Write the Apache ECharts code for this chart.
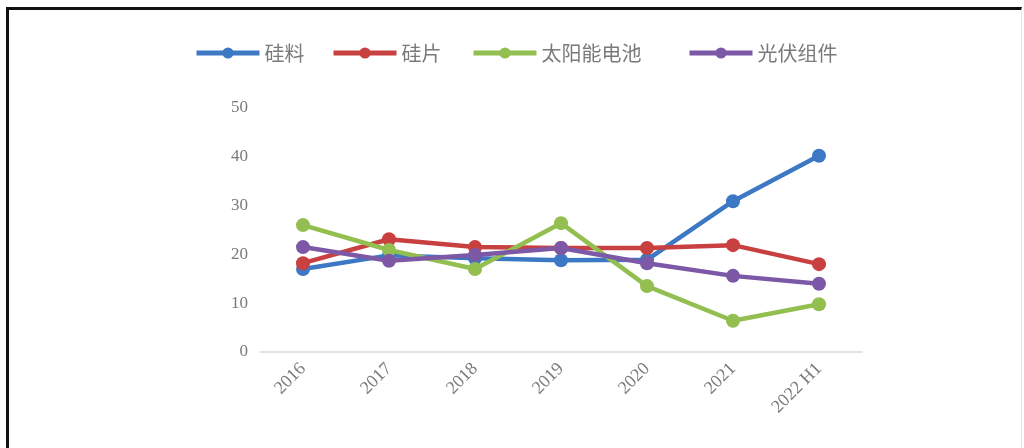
<!DOCTYPE html>
<html><head><meta charset="utf-8">
<script src="https://cdn.jsdelivr.net/npm/echarts@6/dist/echarts.min.js"></script>
<style>
html,body{margin:0;padding:0;background:#fff;}
#frame{position:absolute;left:6px;top:7px;width:1016px;height:460px;border-top:3px solid #111;border-left:3px solid #111;border-right:1px solid #e4e4e4;box-sizing:border-box;}
#c{position:absolute;left:0;top:0;width:1024px;height:448px;}
</style></head>
<body>
<div id="frame"></div>
<div id="c"></div>
<script>
const categories = ['2016','2017','2018','2019','2020','2021','2022 H1'];
const seriesNames = ['硅料','硅片','太阳能电池','光伏组件'];
const siliconMaterial = [17.0, 19.8, 19.2, 18.8, 18.9, 30.9, 40.2];
const wafer = [18.2, 23.1, 21.5, 21.3, 21.3, 21.9, 18.0];
const solarCell = [26.0, 20.9, 17.0, 26.4, 13.5, 6.4, 9.8];
const pvModule = [21.5, 18.7, 19.9, 21.3, 18.2, 15.6, 14.0];
const yTicks = [0, 10, 20, 30, 40, 50];

const colors = ['#3D78C5', '#C8403F', '#92BF4F', '#7C58A6'];
const dataSets = [siliconMaterial, wafer, solarCell, pvModule];
const legendLeft = [189, 326, 466, 682];

const chart = echarts.init(document.getElementById('c'));
chart.setOption({
  animation: false,
  color: colors,
  legend: seriesNames.map((n, i) => ({
    data: [n], left: legendLeft[i], top: 38,
    itemWidth: 63, itemHeight: 14, itemGap: 0,
    lineStyle: {width: 5},
    textStyle: {fontFamily: 'Noto Sans CJK SC', fontSize: 20, color: '#7a7a7a'},
    itemStyle: {borderWidth: 0}
  })),
  grid: {left: 260, right: 162, top: 108, bottom: 96, containLabel: false},
  xAxis: {
    type: 'category', data: categories, boundaryGap: true,
    axisLine: {lineStyle: {color: '#d9d9d9', width: 1.5}},
    axisTick: {show: false},
    axisLabel: {rotate: 45, margin: 14, fontFamily: 'Liberation Serif', fontSize: 18, color: '#7a7a7a'}
  },
  yAxis: {
    type: 'value', min: yTicks[0], max: yTicks[yTicks.length-1], interval: 10,
    axisLine: {show: false}, axisTick: {show: false}, splitLine: {show: false},
    axisLabel: {margin: 12, fontFamily: 'Liberation Serif', fontSize: 17, color: '#7a7a7a'}
  },
  series: seriesNames.map((n, i) => ({
    name: n, type: 'line', data: dataSets[i],
    symbol: 'circle', symbolSize: 14,
    lineStyle: {width: 4.5, color: colors[i]},
    itemStyle: {color: colors[i]}
  }))
});
</script>
</body></html>
